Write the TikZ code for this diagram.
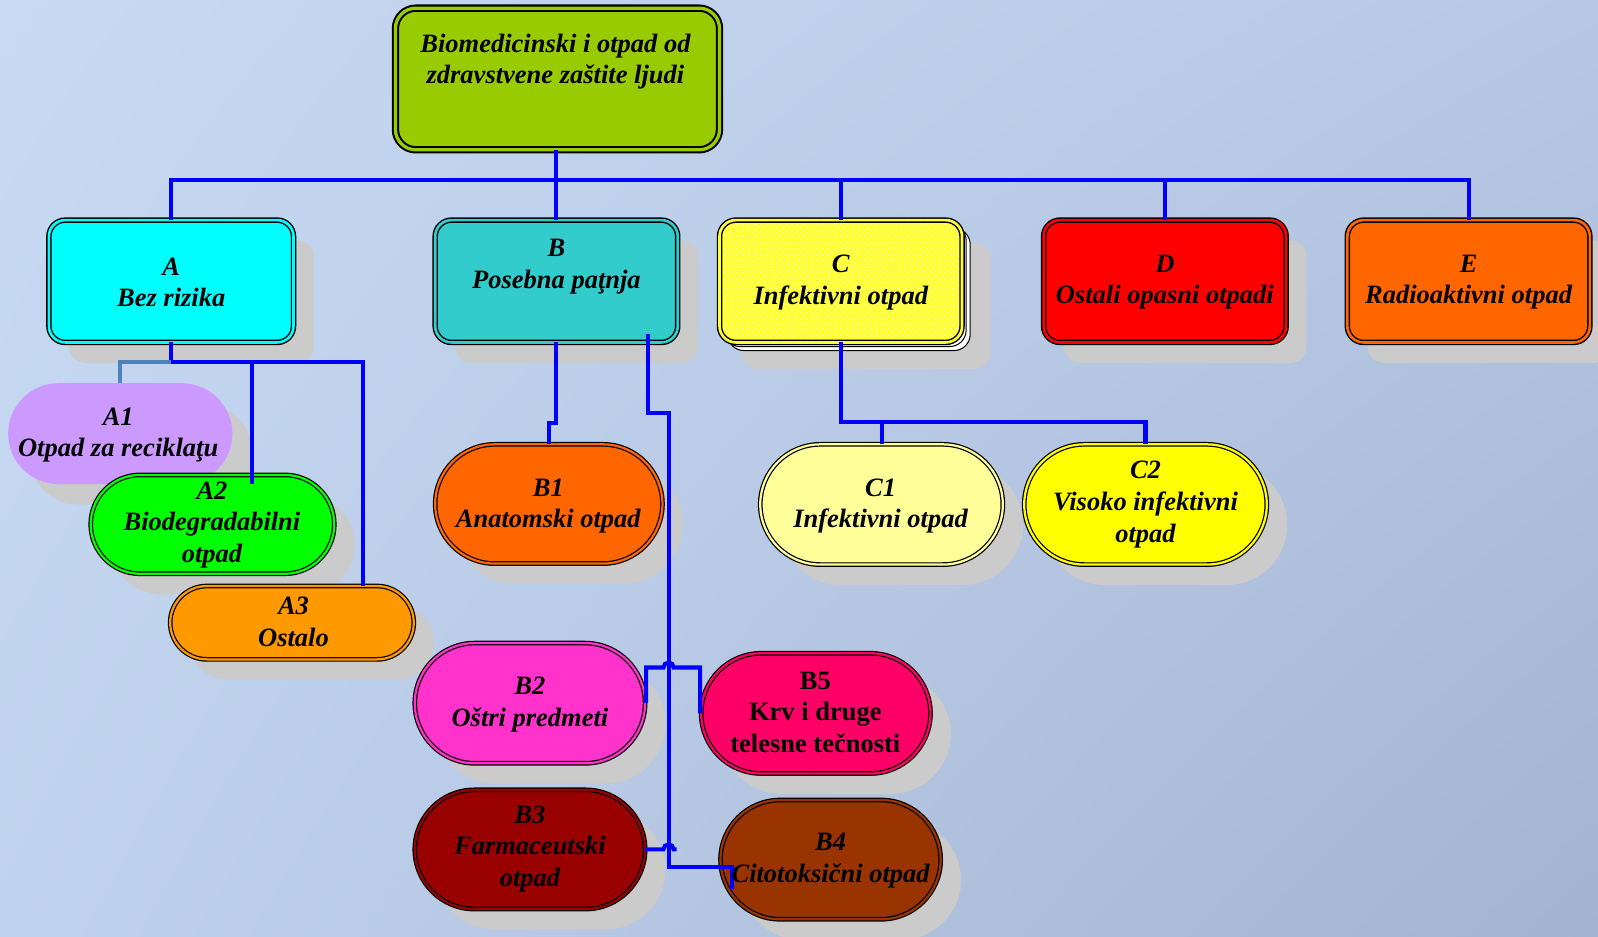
\documentclass[tikz,border=0pt]{standalone}
\usepackage{fontspec}
\setmainfont{Liberation Serif}
\usetikzlibrary{shapes.misc,fit,shadows,patterns,calc,shadings}
\definecolor{cRoot}{HTML}{99CC00}
\definecolor{cA}{HTML}{00FFFF}
\definecolor{cB}{HTML}{33CCCC}
\definecolor{cC}{HTML}{FFFF33}
\definecolor{cD}{HTML}{FF0000}
\definecolor{cE}{HTML}{FF6600}
\definecolor{cAone}{HTML}{CC99FF}
\definecolor{cAtwo}{HTML}{00FF00}
\definecolor{cAthree}{HTML}{FF9900}
\definecolor{cBone}{HTML}{FF6600}
\definecolor{cBtwo}{HTML}{FF33CC}
\definecolor{cBthree}{HTML}{990000}
\definecolor{cBfour}{HTML}{993300}
\definecolor{cBfive}{HTML}{FF0066}
\definecolor{cCone}{HTML}{FFFF99}
\definecolor{cCtwo}{HTML}{FFFF00}
\definecolor{shgrey}{HTML}{CBCBCB}
\definecolor{lineblue}{HTML}{0000FF}
\definecolor{steelline}{HTML}{4F81BD}
\definecolor{bgTL}{HTML}{C8DAF2}
\definecolor{bgTR}{HTML}{B6C8E4}
\definecolor{bgBL}{HTML}{C0D3EE}
\definecolor{bgBR}{HTML}{A3B3D1}
\begin{document}
\begin{tikzpicture}[x=0.5pt,y=-0.5pt,
  every node/.style={inner sep=0pt, outer sep=0pt},
  myshadow/.style={general shadow={fill=shgrey, shadow xshift=10pt, shadow yshift=-10pt}},
  rootbox/.style={rectangle, rounded corners=10pt, draw=black, line width=1pt, double=cRoot, double distance=1.6pt, fill=cRoot},
  lvlbox/.style={rectangle, rounded corners=8pt, draw=black, line width=0.7pt, double=#1, double distance=1.3pt, fill=#1, myshadow},
  pill/.style={rounded rectangle, draw=black, line width=0.6pt, double=#1, double distance=1.1pt, fill=#1, myshadow},
  pillplain/.style={rounded rectangle, draw=none, fill=#1, myshadow},
  lbl/.style={align=center, font=\fontsize{13pt}{15.5pt}\selectfont\bfseries\itshape},
  lblup/.style={align=center, font=\fontsize{13pt}{15.5pt}\selectfont\bfseries},
  conn/.style={draw=lineblue, line width=2pt},
  connsteel/.style={draw=steelline, line width=2pt},
]
\useasboundingbox (0,0) rectangle (1568,919);
\shade[upper left=bgTL, upper right=bgTR, lower left=bgBL, lower right=bgBR] (0,0) rectangle (1568,919);

% root and level 1
\node[rootbox, fit={(388,8)(706,147)}] (root) {};
\node[lvlbox=cA, fit={(48,216)(288,336)}] (A) {};
\node[lvlbox=cB, fit={(427,216)(665,336)}] (B) {};
% stacked look of C
\fill[shgrey, rounded corners=8pt] (728,238) rectangle (972,362);
\draw[black, line width=0.5pt, fill=white, rounded corners=8pt] (714,224) rectangle (952,344);
\draw[black, line width=0.5pt, fill=white, rounded corners=8pt] (710,220) rectangle (948,340);
\node[rectangle, rounded corners=8pt, draw=black, line width=0.7pt, double=cC, double distance=1.3pt,
      preaction={fill=cC}, preaction={pattern=crosshatch dots, pattern color=yellow!35!white},
      fit={(706,216)(944,336)}] (C) {};
\node[lvlbox=cD, fit={(1024,216)(1262,336)}] (D) {};
\node[lvlbox=cE, fit={(1322,216)(1560,336)}] (E) {};

% level 2 (fit spans the straight part; the round ends add half the height on each side)
\node[pillplain=cAone, fit={(57.5,376)(178.5,475)}] (A1) {};
\node[pill=cAtwo, fit={(137.5,466)(279.5,563)}] (A2) {};
\node[pill=cAthree, fit={(203,575)(370,647)}] (A3) {};
\node[pill=cBone, fit={(485.5,436)(591.5,553)}] (B1) {};
\node[pill=cBtwo, fit={(466,631)(574,749)}] (B2) {};
\node[pill=cBthree, fit={(465.5,775)(574.5,892)}] (B3) {};
\node[pill=cBfive, fit={(747,641)(854,759)}] (B5) {};
\node[pill=cBfour, fit={(765.5,785)(864.5,902)}] (B4) {};
\node[pill=cCone, fit={(805,436)(925,554)}] (C1) {};
\node[pill=cCtwo, fit={(1064,436)(1184,554)}] (C2) {};

% connectors
\coordinate (bus) at (0,177);
\draw[conn] (root.south -| B.north) -- (B.north);
\draw[conn] (A.north) -- (A.north |- bus) -- (E.north |- bus) -- (E.north);
\draw[conn] (C.north |- bus) -- (C.north);
\draw[conn] (D.north |- bus) -- (D.north);

\draw[conn] (A.south) -- ++(0,19) coordinate (abus) -| ([shift={(69.5,0)}]A3.north);
\draw[conn] ([shift={(38.5,9)}]A2.north) |- (abus);
\draw[connsteel] (A1.north) |- (abus);

\draw[conn] (B.south) -- ++(0,79) -| (B1.north);
\draw[conn] ([shift={(90,-8)}]B.south) -- ++(0,77) -- ++(20,0) coordinate (bv)
   |- ([shift={(11,7.5)}]B4.west) -- ([shift={(11,28.5)}]B4.west);
\draw[conn] ([xshift=0.5pt]B2.east) -- ++(0,-35) -- ++(17,0)
   arc[start angle=180, end angle=0, radius=2.5pt] -- ++(26,0) -- ([xshift=-0.5pt]B5.west);
\draw[conn] (B3.east) -- ++(18,0) arc[start angle=180, end angle=0, radius=2.5pt] -- ++(3,0);

\draw[conn] (C.south) -- ++(0,78) coordinate (cbus) -| (C2.north);
\draw[conn] (C1.north) -- (C1.north |- cbus);

% texts
\node[lbl] (rootT) at (545,60.5) {Biomedicinski i otpad od\\zdravstvene zaštite ljudi};
\node[lbl] (AT) at (168,277) {A\\Bez rizika};
\node[lbl] (BT) at (546,261.5) {B\\Posebna paţnja};
\node[lbl] (CT) at (825,277) {C\\Infektivni otpad};
\node[lbl] (DT) at (1143,277) {D\\Ostali opasni otpadi};
\node[lbl] (ET) at (1441,277) {E\\Radioaktivni otpad};
\node[lbl] (A1T) at (116,427) {A1\\Otpad za reciklaţu};
\node[lbl] (A2T) at (208,515) {A2\\Biodegradabilni\\otpad};
\node[lbl] (A3T) at (288,610) {A3\\Ostalo};
\node[lbl] (B1T) at (538,496.5) {B1\\Anatomski otpad};
\node[lbl] (B2T) at (520,691.5) {B2\\Oštri predmeti};
\node[lbl] (B3T) at (520,833) {B3\\Farmaceutski\\otpad};
\node[lbl] (B4T) at (815,844.5) {B4\\Citotoksični otpad};
\node[lblup] (B5T) at (800,699) {B5\\Krv i druge\\telesne tečnosti};
\node[lbl] (C1T) at (864,496.5) {C1\\Infektivni otpad};
\node[lbl] (C2T) at (1124,495) {C2\\Visoko infektivni\\otpad};
\end{tikzpicture}
\end{document}
